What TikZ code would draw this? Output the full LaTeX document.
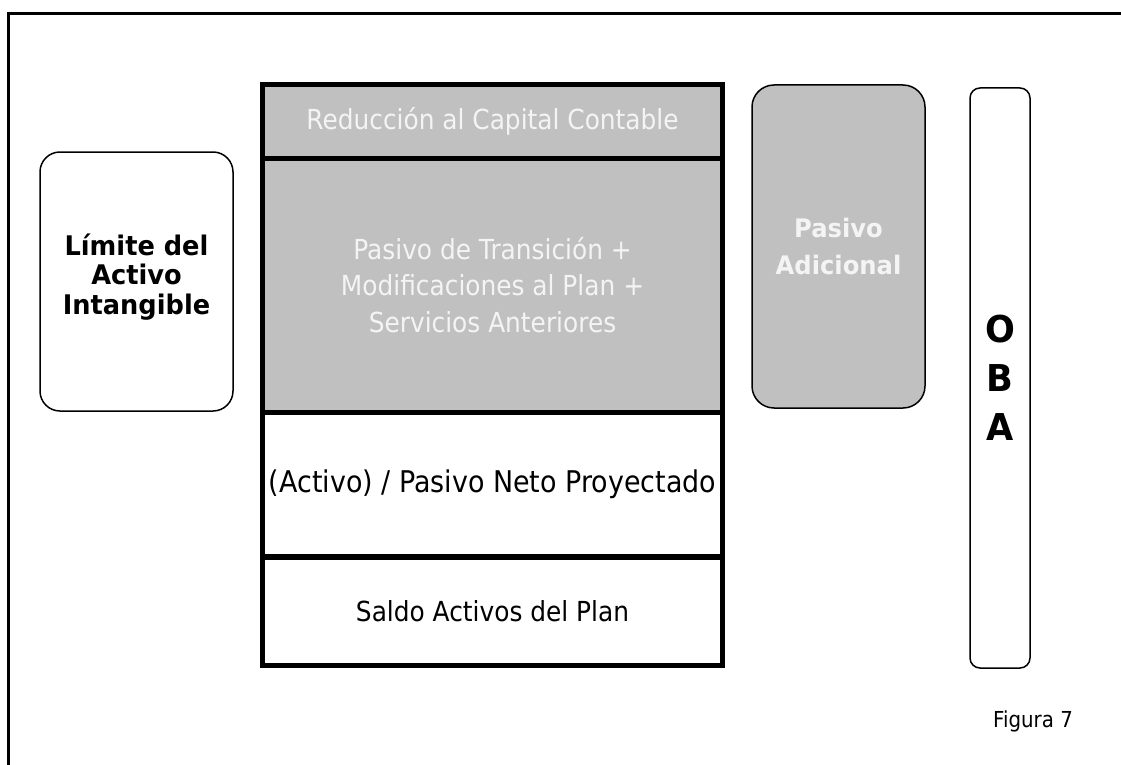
\documentclass[tikz,border=0pt]{standalone}
\usepackage{fontspec}
\setmainfont{DejaVu Sans}[FakeStretch=0.9]
\newfontfamily\bfam{DejaVu Sans Bold}[FakeStretch=0.95]
\definecolor{boxgray}{HTML}{C0C0C0}
\definecolor{softwhite}{HTML}{F4F4F4}
\tikzset{
  sect/.style={draw, line width=5pt, minimum width=460pt, inner sep=0pt, align=center,
    font=\fontsize{27.6}{36.5}\selectfont},
  graysect/.style={sect, fill=boxgray, text=softwhite},
  rbox/.style={draw, line width=1.5pt, inner sep=0pt, align=center},
  boldtext/.style={font=\bfam\fontsize{27}{29.5}\selectfont, align=center},
}
\begin{document}
\begin{tikzpicture}[x=1pt,y=-1pt]
\useasboundingbox (0,0) rectangle (1121,765);
% outer frame (top and left)
\coordinate (frameBL) at (8.3,765);
\coordinate (frameTR) at (1121,13.3);
\draw[line width=3.3pt] (frameBL) |- (frameTR);
% central stack
\node[graysect, minimum height=73pt] (red) at (492.5,121.5) {Reducción al Capital Contable};
\node[graysect, minimum height=254pt] (pas) at (492.5,285) {Pasivo de Transición +\\Modificaciones al Plan +\\Servicios Anteriores};
\node[sect, minimum height=145pt, font=\fontsize{29.9}{36}\selectfont] (neto) at (492.5,484.5) {(Activo) / Pasivo Neto Proyectado};
\node[sect, minimum height=108.5pt] (saldo) at (492.5,611) {Saldo Activos del Plan};
% left box
\node[rbox, rounded corners=20pt, minimum width=193pt, minimum height=259pt] (lim) at (136.5,281.5) {};
\node[boldtext] (limtext) at (136.5,277) {Límite del\\Activo\\Intangible};
% pasivo adicional
\node[rbox, fill=boxgray, rounded corners=22pt, minimum width=173pt, minimum height=323pt,
  text=softwhite, font=\bfam\fontsize{25.5}{37}\selectfont] (adic) at (838.5,246.5) {Pasivo\\Adicional};
% OBA
\node[rbox, rounded corners=10pt, minimum width=60pt, minimum height=580pt,
  font=\bfam\fontsize{37}{49}\selectfont] (oba) at (1000,378) {O\\B\\A};
% caption
\node[font=\fontsize{22}{26}\selectfont, inner sep=0pt] (fig) at (1033,721) {Figura 7};
\end{tikzpicture}
\end{document}
